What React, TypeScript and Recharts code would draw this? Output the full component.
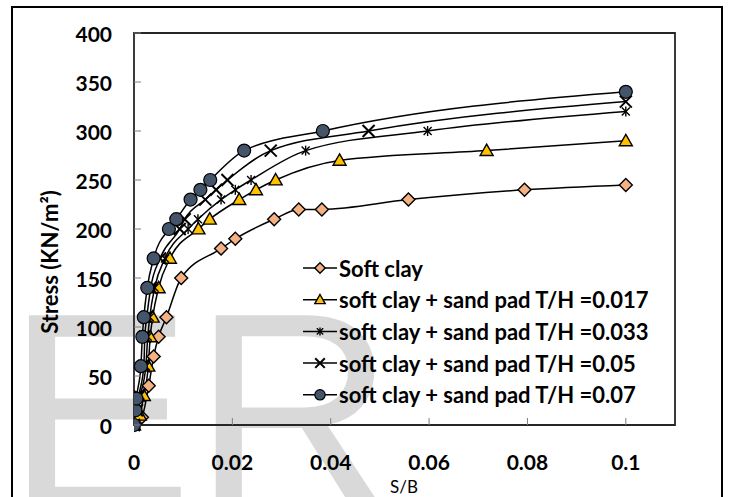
import { LineChart, Line, XAxis, YAxis, ReferenceArea } from 'recharts';

const X_TICKS = [0, 0.02, 0.04, 0.06, 0.08, 0.1];
const Y_TICKS = [0, 50, 100, 150, 200, 250, 300, 350, 400];

const SERIES_NAMES = [
  'Soft clay',
  'soft clay + sand pad T/H =0.017',
  'soft clay + sand pad T/H =0.033',
  'soft clay + sand pad T/H =0.05',
  'soft clay + sand pad T/H =0.07',
];

// settlement ratio S/B and stress (KN/m²) per series
const SOFT_SB = [0, 0.0016, 0.003, 0.004, 0.005, 0.0066, 0.0096, 0.0177, 0.0206, 0.0285, 0.0335, 0.0382, 0.0558, 0.0794, 0.1];
const SOFT_STRESS = [0, 8, 40, 70, 90, 110, 150, 180, 190, 210, 220, 220, 230, 240, 245];

const PAD017_SB = [0, 0.0012, 0.002, 0.0029, 0.0033, 0.0038, 0.005, 0.0073, 0.0131, 0.0154, 0.0214, 0.0248, 0.0288, 0.0418, 0.0717, 0.1];
const PAD017_STRESS = [0, 10, 30, 60, 90, 110, 140, 170, 200, 210, 230, 240, 250, 270, 280, 290];

const PAD033_SB = [0, 0.0008, 0.0013, 0.0024, 0.0028, 0.0032, 0.0042, 0.0063, 0.011, 0.013, 0.0177, 0.0206, 0.0238, 0.0349, 0.0597, 0.1];
const PAD033_STRESS = [0, 15, 30, 60, 90, 110, 140, 170, 200, 210, 230, 240, 250, 280, 300, 320];

const PAD05_SB = [0, 0.0006, 0.001, 0.002, 0.0022, 0.0026, 0.0034, 0.0053, 0.0093, 0.0103, 0.0145, 0.0167, 0.019, 0.0278, 0.0477, 0.1];
const PAD05_STRESS = [0, 15, 30, 60, 90, 110, 140, 170, 200, 210, 230, 240, 250, 280, 300, 330];

const PAD07_SB = [0, 0.0003, 0.0005, 0.0014, 0.0017, 0.002, 0.0027, 0.004, 0.0071, 0.0086, 0.0115, 0.0135, 0.0155, 0.0224, 0.0384, 0.1];
const PAD07_STRESS = [0, 15, 27, 60, 90, 110, 140, 170, 200, 210, 230, 240, 250, 280, 300, 340];

const SB_LISTS = [SOFT_SB, PAD017_SB, PAD033_SB, PAD05_SB, PAD07_SB];
const STRESS_LISTS = [SOFT_STRESS, PAD017_STRESS, PAD033_STRESS, PAD05_STRESS, PAD07_STRESS];
const MARKERS = ['diamond', 'triangle', 'star', 'x', 'circle'];

const FONT = 'Lato, "Open Sans", sans-serif';
const PLOT_LEFT = 134;
const PLOT_BOTTOM = 425;

const series = SERIES_NAMES.map((name, i) => ({
  name,
  marker: MARKERS[i],
  data: SB_LISTS[i].map((sb, j) => ({ sb, stress: STRESS_LISTS[i][j] })),
}));

function Marker({ kind, cx, cy, s = 1 }: { kind: string; cx: number; cy: number; s?: number }) {
  if (cx == null || cy == null) return null;
  if (kind === 'diamond') {
    const r = 6.5 * s;
    return (
      <path
        d={`M${cx},${cy - r}L${cx + r},${cy}L${cx},${cy + r}L${cx - r},${cy}Z`}
        fill="#F4B183"
        stroke="#000"
        strokeWidth={1.4}
      />
    );
  }
  if (kind === 'triangle') {
    const r = 6.5 * s;
    return (
      <path
        d={`M${cx},${cy - r}L${cx + r},${cy + r * 0.75}L${cx - r},${cy + r * 0.75}Z`}
        fill="#FFC000"
        stroke="#000"
        strokeWidth={1.4}
      />
    );
  }
  if (kind === 'star') {
    const r = 5 * s;
    const d = r * 0.8;
    return (
      <g stroke="#000" strokeWidth={1.4}>
        <line x1={cx} y1={cy - r} x2={cx} y2={cy + r} />
        <line x1={cx - d} y1={cy - d} x2={cx + d} y2={cy + d} />
        <line x1={cx - d} y1={cy + d} x2={cx + d} y2={cy - d} />
      </g>
    );
  }
  if (kind === 'x') {
    const r = 6 * s;
    return (
      <g stroke="#000" strokeWidth={2}>
        <line x1={cx - r} y1={cy - r} x2={cx + r} y2={cy + r} />
        <line x1={cx - r} y1={cy + r} x2={cx + r} y2={cy - r} />
      </g>
    );
  }
  return <circle cx={cx} cy={cy} r={6.5 * s} fill="#44546A" stroke="#000" strokeWidth={1.2} />;
}

function YTick({ y, payload }: any) {
  return (
    <g>
      <line x1={PLOT_LEFT} x2={PLOT_LEFT + 7} y1={y} y2={y} stroke="#7f7f7f" strokeWidth={1} />
      <text
        x={112}
        y={y}
        textAnchor="end"
        dominantBaseline="central"
        fontFamily={FONT}
        fontWeight={700}
        fontSize={21}
        fill="#000"
      >
        {payload.value}
      </text>
    </g>
  );
}

function XTick({ x, payload }: any) {
  return (
    <g>
      {payload.value !== 0 && (
        <line x1={x} x2={x} y1={PLOT_BOTTOM} y2={PLOT_BOTTOM - 7} stroke="#7f7f7f" strokeWidth={1} />
      )}
      <text
        x={x}
        y={461}
        textAnchor="middle"
        dominantBaseline="central"
        fontFamily={FONT}
        fontWeight={700}
        fontSize={21}
        fill="#000"
      >
        {payload.value}
      </text>
    </g>
  );
}

function ChartLegend() {
  return (
    <svg width={420} height={170} style={{ position: 'absolute', left: 290, top: 252 }}>
      {series.map((s, i) => {
        const cy = 16 + i * 31.7;
        return (
          <g key={s.name}>
            <line x1={13} x2={47} y1={cy} y2={cy} stroke="#000" strokeWidth={1.5} />
            <Marker kind={s.marker} cx={30} cy={cy} s={0.8} />
            <text
              x={49}
              y={cy}
              dominantBaseline="central"
              fontFamily={FONT}
              fontWeight={700}
              fontSize={22}
              fill="#000"
            >
              {s.name}
            </text>
          </g>
        );
      })}
    </svg>
  );
}

export default function App() {
  return (
    <div
      style={{
        position: 'absolute',
        left: 0,
        top: 0,
        width: 730,
        height: 497,
        overflow: 'hidden',
        background: '#fff',
      }}
    >
      <svg width={730} height={497} style={{ position: 'absolute', left: 0, top: 0 }}>
        <text x={6} y={508} fontFamily='"Liberation Sans", Arial, sans-serif' fontSize={280} fill="#d9d9d9">
          ER
        </text>
      </svg>
      <div
        style={{
          position: 'absolute',
          left: 11,
          top: 6,
          width: 712,
          height: 540,
          border: '2.5px solid #000',
          boxSizing: 'border-box',
        }}
      />
      <div style={{ position: 'absolute', left: 0, top: 0 }}>
        <LineChart width={730} height={497} margin={{ top: 33, right: 55, left: 0, bottom: 0 }}>
          <XAxis
            type="number"
            dataKey="sb"
            domain={[0, 0.11]}
            ticks={X_TICKS}
            tick={<XTick />}
            tickLine={false}
            axisLine={false}
            height={72}
            allowDataOverflow
            label={() => (
              <text x={404} y={486} textAnchor="middle" dominantBaseline="central" fontFamily={FONT} fontSize={17} fill="#000">
                S/B
              </text>
            )}
          />
          <YAxis
            type="number"
            dataKey="stress"
            domain={[0, 400]}
            ticks={Y_TICKS}
            tick={<YTick />}
            tickLine={false}
            axisLine={false}
            width={134}
            label={() => (
              <text
                x={0}
                y={0}
                transform="translate(49,262) rotate(-90)"
                textAnchor="middle"
                dominantBaseline="central"
                fontFamily={FONT}
                fontWeight={700}
                fontSize={22}
                fill="#000"
              >
                Stress (KN/m²)
              </text>
            )}
          />
          <ReferenceArea x1={0} x2={0.11} y1={0} y2={400} fill="none" stroke="#262626" strokeWidth={1.8} />
          {series.map((s) => (
            <Line
              key={s.name}
              data={s.data}
              dataKey="stress"
              name={s.name}
              type="monotone"
              stroke="#000"
              strokeWidth={1.5}
              isAnimationActive={false}
              dot={(p: any) => <Marker key={p.index} kind={s.marker} cx={p.cx} cy={p.cy} />}
            />
          ))}
        </LineChart>
      </div>
      <ChartLegend />
    </div>
  );
}
